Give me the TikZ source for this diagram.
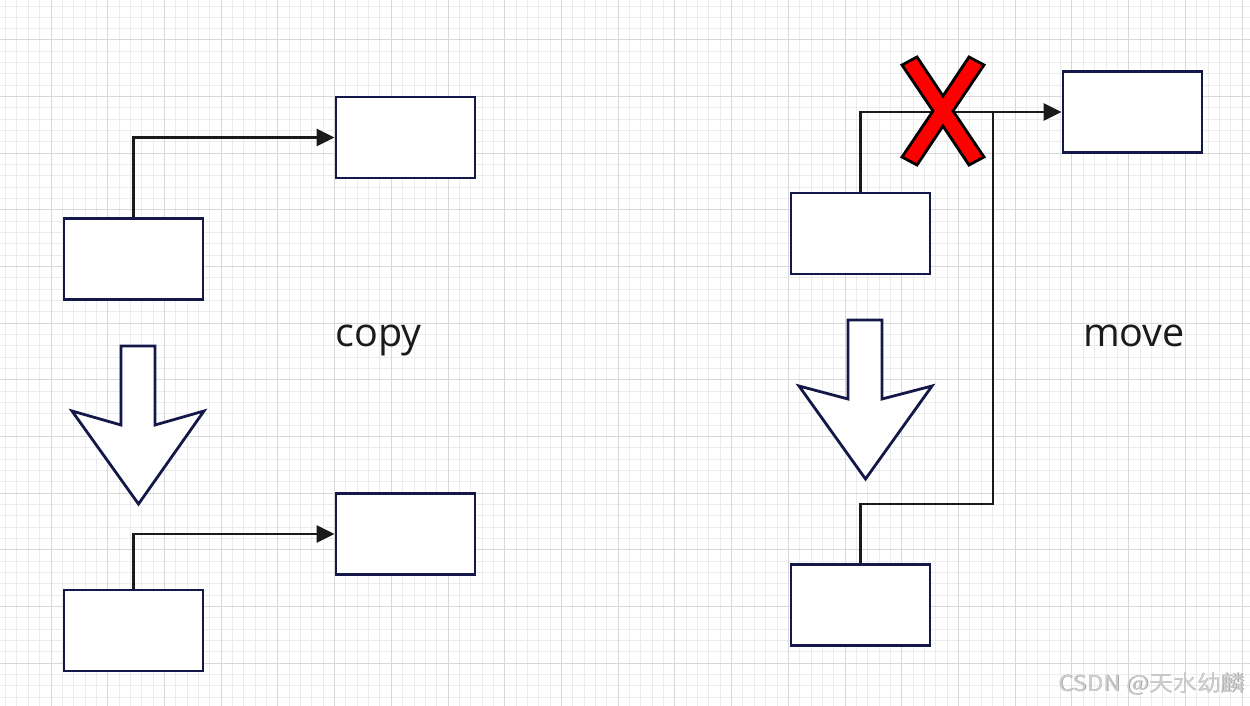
\documentclass[tikz,border=0pt]{standalone}
\usepackage{fontspec}
\setmainfont{Open Sans}
\newfontfamily\cjk{Noto Sans CJK SC}
\usetikzlibrary{arrows.meta}
\definecolor{navy}{RGB}{20,24,72}
\definecolor{ink}{RGB}{26,26,26}
\definecolor{gmin}{RGB}{236,236,236}
\definecolor{gmaj}{RGB}{216,216,216}
\definecolor{wmlight}{RGB}{205,205,205}
\definecolor{wmdark}{RGB}{165,165,165}
\begin{document}
\begin{tikzpicture}[x=1pt,y=-1pt,
  box/.style={draw=navy,line width=2.8pt,fill=white,minimum width=139pt,minimum height=81pt,inner sep=0pt},
  conn/.style={draw=ink,line width=2.8pt},
  tip/.style={-{Triangle[length=18pt,width=17pt]}},
  bigarrow/.style={draw=navy,line width=2.8pt,fill=white,line join=miter},
  lbl/.style={font=\fontsize{39.5}{42}\selectfont,text=ink,inner sep=0pt,anchor=base},
  wmark/.style={font=\cjk\fontsize{22}{24}\selectfont,inner sep=0pt,anchor=base west},
  cross/.style={fill=red,draw=black,line width=2.8pt,line join=miter},
  gridminor/.style={draw=gmin,line width=1pt},
  gridmajor/.style={draw=gmaj,line width=1pt}]
\useasboundingbox (0,0) rectangle (1250,706);
\fill[white] (0,0) rectangle (1250,706);
\begin{scope}
\clip (0,0) rectangle (1250,706);
\foreach \k in {-4,...,106} {\draw[gridminor] ({51+\k*11.344},0) -- ({51+\k*11.344},706);}
\foreach \k in {-3,...,59} {\draw[gridminor] (0,{40+\k*11.33}) -- (1250,{40+\k*11.33});}
\foreach \k in {-1,...,21} {\draw[gridmajor] ({51+\k*56.72},0) -- ({51+\k*56.72},706);}
\foreach \k in {-1,...,12} {\draw[gridmajor] (0,{40+\k*56.65}) -- (1250,{40+\k*56.65});}
\end{scope}

% left: copy
\node[box] (A) at (405.5,137.5) {};
\node[box] (B) at (133.5,259) {};
\node[box] (C) at (405.5,534) {};
\node[box] (D) at (133.5,630.5) {};
\draw[conn,tip] (B.north) |- (A.west);
\draw[conn,tip] (D.north) |- (C.west);
\draw[bigarrow] (121,346) -- (155,346) -- (155,425) -- (204,411) -- (138.5,504) -- (72,411) -- (121,425) -- cycle;
\node[lbl] (copy) at (378.5,346) {copy};

% right: move
\node[box] (E) at (1132.5,112) {};
\node[box] (F) at (860.5,233.5) {};
\node[box] (G) at (860.5,605) {};
\coordinate (join) at (993,112);
\coordinate (turn) at (993,504);
\draw[conn,tip] (F.north) |- (E.west);
\draw[conn] (G.north) |- (turn) -- (join);
\draw[bigarrow] (848,320) -- (882,320) -- (882,399) -- (932,386) -- (865.5,479) -- (799,386) -- (848,399) -- cycle;
\node[lbl] (move) at (1134,346) {move};

% red cross
\begin{scope}[shift={(943,111)}]
\draw[cross] (-41,-46) -- (-26,-54) -- (0,-15) -- (26,-54) -- (41,-46) -- (10,0) -- (41,46) -- (26,54) -- (0,15) -- (-26,54) -- (-41,46) -- (-10,0) -- cycle;
\end{scope}

% watermark
\node[wmark,text=wmdark] (wm2) at (1058.8,691.8) {\scalebox{1.09}[1]{CSDN @天水幼麟}};
\node[wmark,text=wmlight] (wm) at (1058,691) {\scalebox{1.09}[1]{CSDN @天水幼麟}};
\end{tikzpicture}
\end{document}
